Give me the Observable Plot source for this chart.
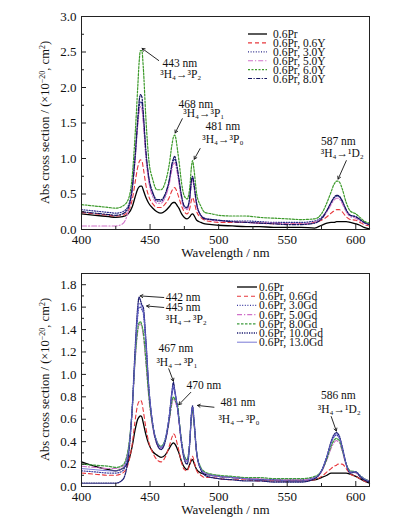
<!DOCTYPE html>
<html><head><meta charset="utf-8">
<script src="https://cdn.jsdelivr.net/npm/d3@7"></script>
<script src="https://cdn.jsdelivr.net/npm/@observablehq/plot@0.6"></script>
<style>
body{margin:0;background:#fff;}
#chart{width:393px;}
#chart svg{display:block;}
</style></head><body><div id="chart"></div>
<script>
// ---------- data ----------
const wavelength = [400,410,420,425,430,434,437,439,441,442,443,444,445,447,449,452,455,458,461,464,466,467,468,469,470,471,473,475,477,479,480,481,482,484,487,490,495,500,510,520,530,540,550,560,570,575,579,582,584,586,587,588,590,593,596,600,603,606,610];

const xMajor = [400,450,500,550,600];
const xMinor = [425,475,525,575];
const topYMajor = [0,0.5,1,1.5,2,2.5,3];
const topYMinor = [0.25,0.75,1.25,1.75,2.25,2.75];
const botYMajor = [0,0.2,0.4,0.6,0.8,1,1.2,1.4,1.6,1.8];
const botYMinor = [0.1,0.3,0.5,0.7,0.9,1.1,1.3,1.5,1.7];

const xLabel = "Wavelength / nm";
const yLabelParts = ["Abs cross section / (×10", "−20", ", cm", "2", ")"];

// top panel (Y co-doped)
const topNames = ["0.6Pr","0.6Pr, 0.6Y","0.6Pr, 3.0Y","0.6Pr, 5.0Y","0.6Pr, 6.0Y","0.6Pr, 8.0Y"];
const topPr  = [0.22,0.2,0.18,0.17,0.18,0.22,0.32,0.45,0.57,0.6,0.61,0.61,0.56,0.45,0.37,0.3,0.25,0.23,0.26,0.32,0.37,0.38,0.38,0.36,0.33,0.3,0.22,0.17,0.15,0.18,0.21,0.22,0.2,0.13,0.1,0.08,0.07,0.06,0.05,0.04,0.04,0.03,0.03,0.03,0.02,0.06,0.09,0.1,0.1,0.11,0.11,0.11,0.11,0.11,0.1,0.08,0.06,0.03,0.01];
const top06Y = [0.24,0.22,0.2,0.19,0.2,0.26,0.42,0.65,0.88,0.95,0.98,0.97,0.87,0.62,0.47,0.36,0.31,0.31,0.36,0.45,0.55,0.58,0.59,0.56,0.51,0.45,0.33,0.25,0.22,0.3,0.4,0.45,0.4,0.25,0.17,0.13,0.11,0.1,0.1,0.1,0.09,0.08,0.08,0.08,0.1,0.13,0.18,0.23,0.26,0.28,0.28,0.28,0.25,0.18,0.14,0.13,0.1,0.07,0.05];
const top30Y = [0.28,0.26,0.24,0.23,0.25,0.33,0.6,1.0,1.5,1.72,1.8,1.78,1.58,1.05,0.72,0.5,0.4,0.4,0.48,0.68,0.9,0.97,0.99,0.93,0.82,0.7,0.45,0.32,0.3,0.45,0.65,0.73,0.62,0.35,0.2,0.16,0.14,0.13,0.12,0.12,0.11,0.1,0.1,0.1,0.12,0.17,0.27,0.38,0.44,0.47,0.47,0.46,0.4,0.27,0.2,0.18,0.14,0.1,0.07];
const top50Y = [0.05,0.05,0.05,0.05,0.08,0.25,0.55,0.95,1.45,1.65,1.73,1.7,1.52,1.0,0.68,0.46,0.37,0.37,0.45,0.64,0.85,0.92,0.94,0.88,0.78,0.66,0.42,0.3,0.28,0.42,0.62,0.7,0.6,0.33,0.2,0.15,0.13,0.12,0.11,0.1,0.09,0.09,0.08,0.08,0.1,0.15,0.25,0.35,0.41,0.44,0.44,0.43,0.37,0.25,0.18,0.16,0.12,0.09,0.06];
const top60Y = [0.35,0.33,0.31,0.3,0.33,0.42,0.75,1.3,2.0,2.35,2.52,2.52,2.3,1.55,1.0,0.7,0.56,0.56,0.66,0.92,1.2,1.3,1.33,1.26,1.12,0.98,0.65,0.47,0.43,0.6,0.85,0.97,0.85,0.5,0.33,0.24,0.22,0.2,0.19,0.19,0.17,0.16,0.15,0.14,0.15,0.22,0.38,0.53,0.63,0.68,0.68,0.67,0.58,0.38,0.26,0.22,0.17,0.12,0.09];
const top80Y = [0.25,0.23,0.21,0.2,0.22,0.3,0.58,1.0,1.55,1.8,1.9,1.87,1.66,1.1,0.75,0.52,0.42,0.42,0.5,0.7,0.93,1.0,1.03,0.96,0.85,0.72,0.47,0.33,0.31,0.47,0.67,0.75,0.64,0.36,0.2,0.15,0.14,0.13,0.11,0.1,0.09,0.08,0.07,0.07,0.09,0.15,0.27,0.38,0.45,0.48,0.48,0.47,0.41,0.28,0.2,0.18,0.14,0.1,0.07];

// bottom panel (Gd co-doped)
const botNames = ["0.6Pr","0.6Pr, 0.6Gd","0.6Pr, 3.0Gd","0.6Pr, 5.0Gd","0.6Pr, 8.0Gd","0.6Pr, 10.0Gd","0.6Pr, 13.0Gd"];
const botPr    = [0.22,0.18,0.15,0.14,0.16,0.22,0.36,0.5,0.6,0.62,0.63,0.62,0.57,0.46,0.38,0.31,0.28,0.26,0.28,0.34,0.38,0.39,0.38,0.36,0.33,0.3,0.22,0.17,0.15,0.2,0.23,0.24,0.21,0.15,0.12,0.11,0.1,0.09,0.08,0.07,0.06,0.06,0.05,0.05,0.06,0.08,0.1,0.12,0.12,0.12,0.12,0.12,0.12,0.12,0.11,0.09,0.07,0.05,0.03];
const bot06Gd  = [0.12,0.11,0.1,0.1,0.12,0.2,0.38,0.58,0.73,0.76,0.77,0.75,0.68,0.52,0.4,0.3,0.24,0.22,0.26,0.36,0.44,0.47,0.46,0.42,0.37,0.32,0.21,0.15,0.14,0.2,0.25,0.27,0.23,0.14,0.1,0.08,0.08,0.07,0.06,0.06,0.05,0.05,0.05,0.05,0.06,0.09,0.13,0.16,0.18,0.19,0.2,0.2,0.2,0.16,0.11,0.09,0.07,0.05,0.03];
const bot30Gd  = [0.14,0.13,0.12,0.12,0.14,0.3,0.7,1.15,1.52,1.6,1.6,1.58,1.55,1.25,0.88,0.55,0.4,0.35,0.42,0.63,0.83,0.88,0.84,0.78,0.7,0.6,0.4,0.27,0.23,0.42,0.62,0.7,0.58,0.3,0.16,0.12,0.1,0.09,0.08,0.07,0.06,0.06,0.06,0.06,0.08,0.14,0.27,0.39,0.44,0.46,0.45,0.43,0.35,0.2,0.13,0.13,0.1,0.07,0.05];
const bot50Gd  = [0.18,0.17,0.16,0.16,0.18,0.32,0.68,1.1,1.38,1.44,1.45,1.42,1.35,1.1,0.8,0.52,0.38,0.34,0.4,0.58,0.74,0.78,0.77,0.73,0.7,0.58,0.38,0.26,0.23,0.4,0.58,0.66,0.56,0.29,0.16,0.12,0.1,0.09,0.08,0.07,0.07,0.06,0.06,0.06,0.08,0.13,0.24,0.34,0.39,0.41,0.4,0.39,0.32,0.19,0.13,0.12,0.09,0.07,0.05];
const bot80Gd  = [0.2,0.19,0.18,0.17,0.19,0.33,0.7,1.12,1.4,1.46,1.47,1.44,1.38,1.12,0.82,0.54,0.4,0.36,0.42,0.6,0.76,0.8,0.78,0.75,0.74,0.62,0.4,0.27,0.24,0.41,0.6,0.68,0.57,0.3,0.17,0.13,0.11,0.1,0.09,0.08,0.08,0.07,0.07,0.07,0.09,0.14,0.25,0.36,0.41,0.43,0.42,0.41,0.33,0.2,0.14,0.13,0.1,0.07,0.05];
const bot100Gd = [0.03,0.03,0.03,0.03,0.06,0.25,0.7,1.2,1.6,1.69,1.66,1.62,1.6,1.3,0.9,0.55,0.38,0.33,0.4,0.62,0.85,0.93,0.86,0.78,0.7,0.6,0.38,0.24,0.2,0.4,0.62,0.72,0.6,0.3,0.15,0.1,0.08,0.07,0.06,0.05,0.05,0.04,0.04,0.04,0.07,0.14,0.27,0.4,0.46,0.48,0.47,0.45,0.36,0.2,0.12,0.13,0.09,0.06,0.04];
const bot130Gd = [0.16,0.15,0.14,0.14,0.16,0.3,0.7,1.15,1.55,1.63,1.63,1.6,1.57,1.28,0.9,0.55,0.4,0.35,0.42,0.63,0.84,0.9,0.85,0.78,0.7,0.6,0.39,0.26,0.22,0.41,0.62,0.71,0.59,0.3,0.16,0.12,0.1,0.09,0.08,0.07,0.06,0.06,0.05,0.05,0.08,0.14,0.27,0.39,0.45,0.47,0.46,0.44,0.35,0.2,0.13,0.13,0.1,0.07,0.05];

// annotation texts (centred) and left-aligned ones
const topPeakTexts = [
  {t:"443 nm", x:471.7, y:2.34}, {t:"³H₄→³P₂", x:472.4, y:2.19},
  {t:"468 nm", x:483.4, y:1.77}, {t:"³H₄→³P₁", x:489.2, y:1.635},
  {t:"481 nm", x:503.1, y:1.45}, {t:"³H₄→³P₀", x:503.1, y:1.27},
  {t:"587 nm", x:587.3, y:1.24}, {t:"³H₄→¹D₂", x:590.2, y:1.07}
];
const topPeakTextsLeft = [];
const topPeakArrows = [
  {x1:456.3, y1:2.38, x2:444.2, y2:2.55},
  {x1:473.5, y1:1.56, x2:468.3, y2:1.36},
  {x1:486.5, y1:1.14, x2:482.2, y2:0.99},
  {x1:593.1, y1:0.97, x2:587.1, y2:0.71}
];
const botPeakTextsLeft = [
  {t:"442 nm", x:461.4, y:1.69}, {t:"445 nm", x:461.4, y:1.60},
  {t:"³H₄→³P₂", x:461.4, y:1.49}
];
const botPeakTexts = [
  {t:"467 nm", x:468.8, y:1.23}, {t:"³H₄→³P₁", x:469.6, y:1.11},
  {t:"470 nm", x:489.2, y:0.905},
  {t:"481 nm", x:514.1, y:0.75}, {t:"³H₄→³P₀", x:514.8, y:0.60},
  {t:"586 nm", x:587.3, y:0.81}, {t:"³H₄→¹D₂", x:588.0, y:0.69}
];
const botPeakArrows = [
  {x1:460.0, y1:1.686, x2:442.8, y2:1.70},
  {x1:460.0, y1:1.597, x2:447.5, y2:1.61},
  {x1:463.6, y1:1.05, x2:467.0, y2:0.94},
  {x1:479.7, y1:0.84, x2:471.0, y2:0.73},
  {x1:496.6, y1:0.707, x2:484.6, y2:0.723},
  {x1:582.1, y1:0.624, x2:585.8, y2:0.495}
];

// ---------- drawing ----------
const W = 393, ML = 81, MR = 24;
const FONT = "'Liberation Serif','Times New Roman',serif";

function panel(cfg) {
  const fh = cfg.height - cfg.marginTop - cfg.marginBottom;
  const fw = W - ML - MR;
  const marks = [];
  cfg.series.forEach((s, k) => {
    const st = cfg.styles[k];
    marks.push(Plot.line(wavelength.map((w, i) => ({w, v: s[i]})), {
      x: "w", y: "v", stroke: st.c, strokeWidth: st.w,
      strokeDasharray: st.d, curve: "monotone-x"
    }));
  });
  marks.push(
    Plot.frame({stroke: "#222", strokeWidth: 1}),
    Plot.tickX(xMajor, {x: d => d, insetTop: fh - 5, stroke: "#222"}),
    Plot.tickX(xMinor, {x: d => d, insetTop: fh - 3, stroke: "#222"}),
    Plot.tickY(cfg.yMajor, {y: d => d, insetRight: fw - 5, stroke: "#222"}),
    Plot.tickY(cfg.yMinor, {y: d => d, insetRight: fw - 3, stroke: "#222"}),
    Plot.axisX(xMajor, {tickSize: 0, tickPadding: 5, label: null}),
    Plot.axisY(cfg.yMajor, {tickSize: 0, tickPadding: 5, label: null, tickFormat: d => d.toFixed(1)}),
    Plot.text([xLabel], {frameAnchor: "bottom", dy: cfg.xLabelDy, fontSize: 13}),
    Plot.text(cfg.texts, {x: "x", y: "y", text: "t", textAnchor: "middle", fontSize: 11.5}),
    Plot.text(cfg.textsLeft, {x: "x", y: "y", text: "t", textAnchor: "start", fontSize: 11.5}),
    Plot.arrow(cfg.arrows, {x1: "x1", y1: "y1", x2: "x2", y2: "y2", headLength: 5, strokeWidth: 0.9, stroke: "#111"})
  );
  const svg = Plot.plot({
    width: W, height: cfg.height,
    marginLeft: ML, marginRight: MR, marginTop: cfg.marginTop, marginBottom: cfg.marginBottom,
    x: {domain: [400, 610]},
    y: {domain: cfg.yDomain},
    style: {fontFamily: FONT, fontSize: "13px", background: "#fff", color: "#111"},
    marks
  });
  const root = d3.select(svg);
  // rotated y-axis title with true superscripts
  const yt = root.append("text")
    .attr("transform", `translate(45,${cfg.marginTop + fh / 2}) rotate(-90)`)
    .attr("text-anchor", "middle").attr("dy", "0.35em")
    .attr("font-family", FONT).attr("font-size", 12.5).attr("fill", "#111");
  yt.append("tspan").text(yLabelParts[0]);
  yt.append("tspan").attr("dy", -4.5).attr("font-size", 8).text(yLabelParts[1]);
  yt.append("tspan").attr("dy", 4.5).text(yLabelParts[2]);
  yt.append("tspan").attr("dy", -4.5).attr("font-size", 8).text(yLabelParts[3]);
  yt.append("tspan").attr("dy", 4.5).text(yLabelParts[4]);
  // legend inside the frame
  const g = root.append("g").attr("font-family", FONT).attr("font-size", 11.5)
    .attr("text-anchor", "start");
  cfg.names.forEach((n, k) => {
    const st = cfg.styles[k];
    const y = cfg.legend.y0 + k * cfg.legend.step;
    g.append("line").attr("x1", cfg.legend.x1).attr("x2", cfg.legend.x2)
      .attr("y1", y).attr("y2", y).attr("stroke", st.c).attr("stroke-width", st.w)
      .attr("stroke-dasharray", st.d);
    g.append("text").attr("x", cfg.legend.tx).attr("y", y).attr("dy", "0.35em")
      .attr("fill", "#111").text(n);
  });
  return svg;
}

const topStyles = [
  {c: "#000000", d: null, w: 1.3},
  {c: "#e8383d", d: "4,3", w: 1.1},
  {c: "#2a2a8a", d: "1,1.6", w: 1.2},
  {c: "#d070c8", d: "5,2,1.2,2", w: 1.1},
  {c: "#3c9a2a", d: "2,1.5", w: 1.2},
  {c: "#141460", d: "4,1.5,1.2,1.5", w: 1.2}
];
const botStyles = [
  {c: "#000000", d: null, w: 1.3},
  {c: "#e8383d", d: "4,3", w: 1.1},
  {c: "#3a3aa0", d: "1,1.6", w: 1.2},
  {c: "#d070c8", d: "5,2,1.2,2", w: 1.1},
  {c: "#3c9a3c", d: "2.5,1.5", w: 1.2},
  {c: "#1c1c70", d: "1.2,1.2", w: 1.3},
  {c: "#6a6ad0", d: null, w: 0.9}
];

const rootDiv = document.getElementById("chart");
rootDiv.append(panel({
  height: 264, marginTop: 16, marginBottom: 35, xLabelDy: 27,
  yDomain: [0, 3], yMajor: topYMajor, yMinor: topYMinor,
  series: [topPr, top06Y, top30Y, top50Y, top60Y, top80Y],
  names: topNames, styles: topStyles,
  texts: topPeakTexts, textsLeft: topPeakTextsLeft, arrows: topPeakArrows,
  legend: {x1: 248, x2: 267, tx: 273, y0: 34, step: 8.9}
}));
rootDiv.append(panel({
  height: 264, marginTop: 9, marginBottom: 42, xLabelDy: 27,
  yDomain: [0, 1.9], yMajor: botYMajor, yMinor: botYMinor,
  series: [botPr, bot06Gd, bot30Gd, bot50Gd, bot80Gd, bot100Gd, bot130Gd],
  names: botNames, styles: botStyles,
  texts: botPeakTexts, textsLeft: botPeakTextsLeft, arrows: botPeakArrows,
  legend: {x1: 237, x2: 257, tx: 259, y0: 23, step: 9.2}
}));
</script></body></html>
